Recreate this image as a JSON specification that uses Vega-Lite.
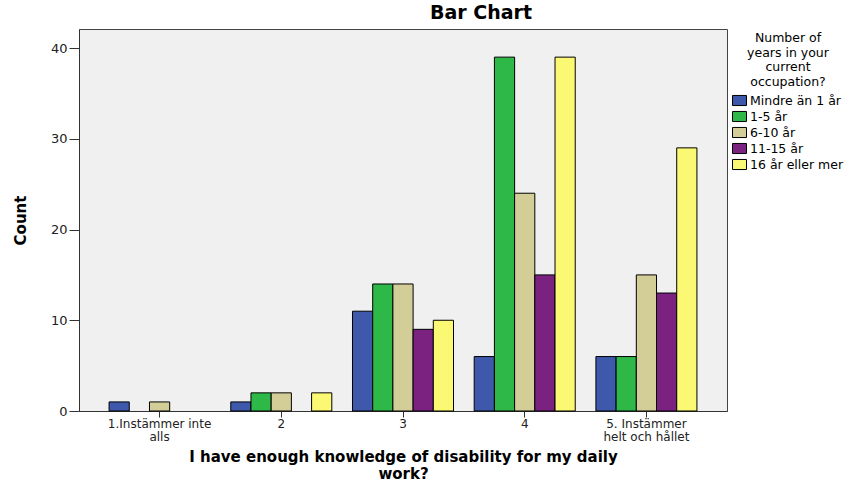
{
  "$schema": "https://vega.github.io/schema/vega-lite/v6.json",
  "width": 648,
  "height": 382,
  "autosize": {"type": "none"},
  "padding": {"left": 79, "top": 29, "right": 138, "bottom": 72},
  "background": "white",
  "title": {
    "text": "Bar Chart",
    "font": "DejaVu Sans",
    "fontSize": 19,
    "fontWeight": "bold",
    "color": "black",
    "anchor": "middle",
    "dx": 78,
    "offset": 6
  },
  "data": {
    "values": [
      {"cat": "1.Instämmer inte alls", "grp": "Mindre än 1 år", "count": 1},
      {"cat": "1.Instämmer inte alls", "grp": "6-10 år", "count": 1},
      {"cat": "2", "grp": "Mindre än 1 år", "count": 1},
      {"cat": "2", "grp": "1-5 år", "count": 2},
      {"cat": "2", "grp": "6-10 år", "count": 2},
      {"cat": "2", "grp": "16 år eller mer", "count": 2},
      {"cat": "3", "grp": "Mindre än 1 år", "count": 11},
      {"cat": "3", "grp": "1-5 år", "count": 14},
      {"cat": "3", "grp": "6-10 år", "count": 14},
      {"cat": "3", "grp": "11-15 år", "count": 9},
      {"cat": "3", "grp": "16 år eller mer", "count": 10},
      {"cat": "4", "grp": "Mindre än 1 år", "count": 6},
      {"cat": "4", "grp": "1-5 år", "count": 39},
      {"cat": "4", "grp": "6-10 år", "count": 24},
      {"cat": "4", "grp": "11-15 år", "count": 15},
      {"cat": "4", "grp": "16 år eller mer", "count": 39},
      {"cat": "5. Instämmer helt och hållet", "grp": "Mindre än 1 år", "count": 6},
      {"cat": "5. Instämmer helt och hållet", "grp": "1-5 år", "count": 6},
      {"cat": "5. Instämmer helt och hållet", "grp": "6-10 år", "count": 15},
      {"cat": "5. Instämmer helt och hållet", "grp": "11-15 år", "count": 13},
      {"cat": "5. Instämmer helt och hållet", "grp": "16 år eller mer", "count": 29}
    ]
  },
  "mark": {"type": "bar", "stroke": "black", "strokeWidth": 1},
  "encoding": {
    "x": {
      "field": "cat",
      "type": "nominal",
      "scale": {
        "domain": ["1.Instämmer inte alls", "2", "3", "4", "5. Instämmer helt och hållet"],
        "paddingInner": 0.17,
        "paddingOuter": 0.247
      },
      "axis": {
        "labelAngle": 0,
        "labelExpr": "datum.value == '1.Instämmer inte alls' ? ['1.Instämmer inte', 'alls'] : datum.value == '5. Instämmer helt och hållet' ? ['5. Instämmer', 'helt och hållet'] : datum.value",
        "labelFont": "DejaVu Sans",
        "labelFontSize": 12,
        "labelColor": "#222",
        "labelLineHeight": 13,
        "labelPadding": 1,
        "tickSize": 6,
        "tickColor": "#333",
        "domainColor": "#333",
        "title": ["I have enough knowledge of disability for my daily", "work?"],
        "titleFont": "DejaVu Sans",
        "titleFontSize": 15,
        "titleFontWeight": "bold",
        "titleColor": "black",
        "titleLineHeight": 17,
        "titlePadding": 7
      }
    },
    "xOffset": {
      "field": "grp",
      "type": "nominal",
      "scale": {
        "domain": ["Mindre än 1 år", "1-5 år", "6-10 år", "11-15 år", "16 år eller mer"],
        "paddingInner": 0,
        "paddingOuter": 0
      }
    },
    "y": {
      "field": "count",
      "type": "quantitative",
      "scale": {"domain": [0, 42.1], "nice": false},
      "axis": {
        "values": [0, 10, 20, 30, 40],
        "grid": false,
        "labelFont": "DejaVu Sans",
        "labelFontSize": 13,
        "labelColor": "#222",
        "tickSize": 10,
        "tickColor": "#333",
        "domainColor": "#333",
        "labelPadding": 2,
        "title": "Count",
        "titleFont": "DejaVu Sans",
        "titleFontSize": 15,
        "titleFontWeight": "bold",
        "titleColor": "black",
        "titlePadding": 22
      }
    },
    "color": {
      "field": "grp",
      "type": "nominal",
      "scale": {
        "domain": ["Mindre än 1 år", "1-5 år", "6-10 år", "11-15 år", "16 år eller mer"],
        "range": ["#3E58AC", "#2EB848", "#D3CE97", "#7B2281", "#FBF873"]
      },
      "legend": {
        "orient": "none",
        "legendX": 653,
        "legendY": 3,
        "title": ["Number of", "years in your", "current", "occupation?"],
        "titleFont": "DejaVu Sans",
        "titleFontSize": 12.5,
        "titleFontWeight": "normal",
        "titleColor": "black",
        "titleLineHeight": 14.5,
        "titleAlign": "center",
        "titleAnchor": "middle",
        "titlePadding": 5,
        "labelFont": "DejaVu Sans",
        "labelFontSize": 12.5,
        "labelColor": "black",
        "labelOffset": 3,
        "symbolType": "M-1,-0.72L1,-0.72L1,0.72L-1,0.72Z",
        "symbolSize": 196,
        "symbolStrokeColor": "black",
        "symbolStrokeWidth": 1,
        "symbolOpacity": 1,
        "rowPadding": 1
      }
    }
  },
  "config": {
    "view": {"fill": "#F0F0F0", "stroke": "#444", "strokeWidth": 1}
  }
}
